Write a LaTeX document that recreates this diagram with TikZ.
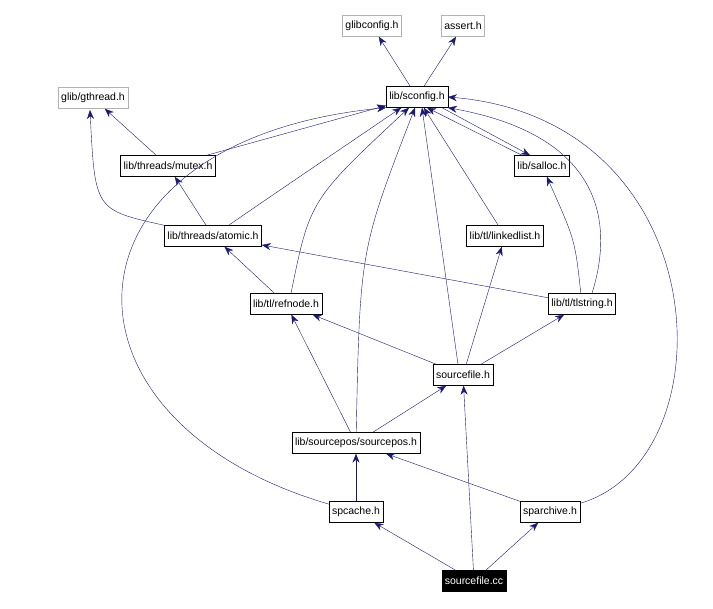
\documentclass[tikz,border=0pt]{standalone}
\usepackage{fontspec}
\setmainfont{Liberation Sans}
\usetikzlibrary{arrows.meta, positioning, calc}
\definecolor{edge_blue}{RGB}{25,25,112}

\tikzset{
  file/.style={draw, thin, font=\fontsize{10.5}{12}\selectfont, minimum height=21pt, inner sep=3pt},
  ext/.style={file, draw=gray!60},
  main/.style={file, fill=black, text=white},
  dep/.style={edge_blue, thin, -{Stealth[length=9pt, width=7pt]}}
}

\begin{document}
\begin{tikzpicture}[x=1pt, y=-1pt]
    \useasboundingbox (0,0) rectangle (713,609);
    \node[ext] (gcfg) at (372,26) {glibconfig.h};
    \node[ext] (assert) at (463,26) {assert.h};
    \node[file] (sconfig) at (417,97) {lib/sconfig.h};
    \node[ext] (gthread) at (93,98) {glib/gthread.h};
    \node[file] (mutex) at (168,166) {lib/threads/mutex.h};
    \node[file] (salloc) at (542,166) {lib/salloc.h};
    \node[file] (atomic) at (213,236) {lib/threads/atomic.h};
    \node[file] (llist) at (505,236) {lib/tl/linkedlist.h};
    \node[file] (refnode) at (286,304) {lib/tl/refnode.h};
    \node[file] (tlstr) at (582,304) {lib/tl/tlstring.h};
    \node[file] (srcfile) at (463,375) {sourcefile.h};
    \node[file] (srcpos) at (356,443) {lib/sourcepos/sourcepos.h};
    \node[file] (spcache) at (356,512) {spcache.h};
    \node[file] (sparch) at (550,512) {sparchive.h};
    \node[main] (cc) at (474,581) {sourcefile.cc};

    \draw[dep] (sconfig) -- (gcfg);
    \draw[dep] (sconfig) -- (assert);
    \draw[dep] (mutex) -- (gthread);
    \draw[dep] (mutex) -- (sconfig);
    \draw[dep] ([xshift=-20pt]salloc.north) -- ([xshift=10pt]sconfig.south);
    \draw[dep] ([xshift=25pt]sconfig.south) -- ([xshift=-12pt]salloc.north);
    \draw[dep] (atomic.north west) .. controls (95,210) .. (90,110);
    \draw[dep] (atomic) -- (mutex);
    \draw[dep] (atomic) .. controls (280,190) .. (sconfig);
    \draw[dep] (refnode) -- (atomic);
    \draw[dep] ([xshift=5pt]refnode.north) .. controls (310,200) .. ([xshift=-8pt]sconfig.south);
    \draw[dep] (tlstr) -- (atomic);
    \draw[dep] (tlstr) .. controls (575,240) .. (salloc);
    \draw[dep] ([xshift=10pt]tlstr.north) .. controls (615,220) and (600,135) .. (sconfig.south east);
    \draw[dep] (llist) -- (sconfig);
    \draw[dep] (srcfile) -- (refnode);
    \draw[dep] (srcfile) -- (llist);
    \draw[dep] (srcfile) -- (tlstr);
    \draw[dep] ([xshift=-5pt]srcfile.north) -- ([xshift=5pt]sconfig.south);
    \draw[dep] (srcpos) -- (refnode);
    \draw[dep] (srcpos) -- (srcfile);
    \draw[dep] (srcpos) .. controls (360,250) .. ([xshift=-2pt]sconfig.south);
    \draw[dep] (spcache) -- (srcpos);
    \draw[dep] (spcache) .. controls (40,420) and (50,140) .. (sconfig.south west);
    \draw[dep] (sparch) -- (srcpos);
    \draw[dep] (sparch) .. controls (730,460) and (720,120) .. (sconfig.east);
    \draw[dep] (cc) -- (spcache);
    \draw[dep] (cc) -- (sparch);
    \draw[dep] (cc) -- (srcfile);
\end{tikzpicture}
\end{document}
